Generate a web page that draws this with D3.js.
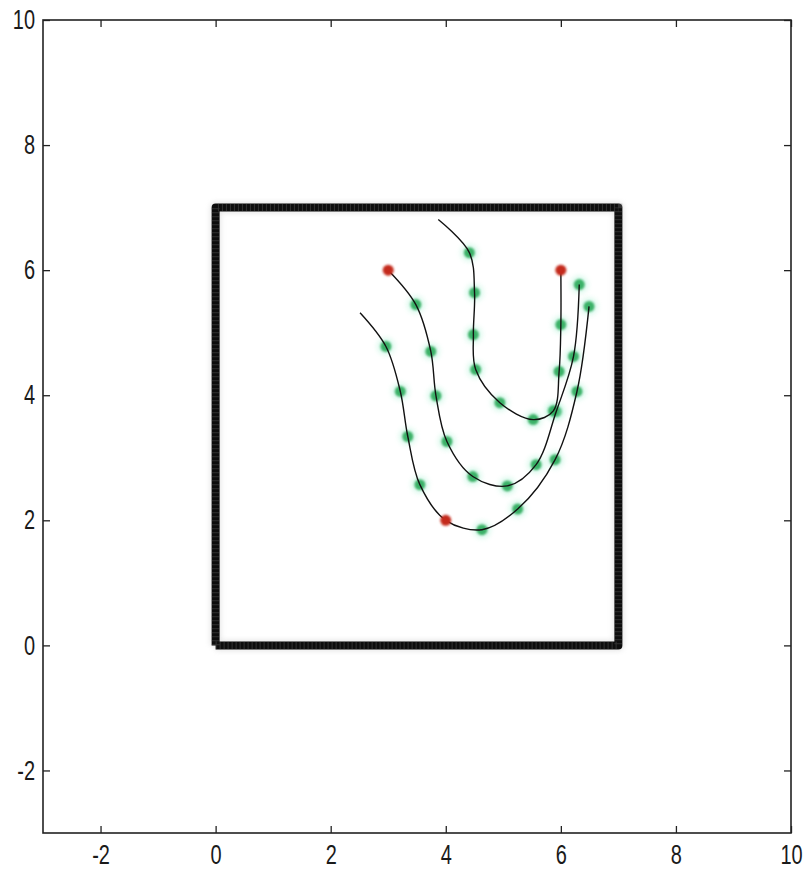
<!DOCTYPE html>
<html>
<head>
<meta charset="utf-8">
<script src="https://cdn.jsdelivr.net/npm/d3@7"></script>
<style>
  html, body { margin: 0; padding: 0; background: #fff; }
  svg { display: block; }
  .tick-label { font-family: "Liberation Sans", Arial, sans-serif; font-size: 27px; fill: #1a1a1a; }
</style>
</head>
<body>
<svg id="chart" width="805" height="876"></svg>
<script>
// Axis ranges and tick values
const xDomain = [-3, 10];
const yDomain = [-3, 10];
const xTicks = [-2, 0, 2, 4, 6, 8, 10];
const yTicks = [-2, 0, 2, 4, 6, 8, 10];

// Boundary square corners
const boundary = [[0, 0], [7, 0], [7, 7], [0, 7], [0, 0]];

// Trajectories (first point of A and C is an unmarked start)
const curveA = [[2.51, 5.32], [2.96, 4.78], [3.21, 4.06], [3.34, 3.34], [3.55, 2.57], [4.0, 2.0],
                [4.63, 1.85], [5.25, 2.18], [5.90, 2.97], [6.28, 4.06], [6.49, 5.42]];
const curveB = [[3.0, 6.0], [3.48, 5.45], [3.74, 4.70], [3.83, 3.99], [4.02, 3.26], [4.47, 2.70],
                [5.07, 2.55], [5.57, 2.89], [5.92, 3.74], [6.22, 4.62], [6.32, 5.77]];
const curveC = [[3.87, 6.81], [4.41, 6.28], [4.50, 5.64], [4.48, 4.97], [4.52, 4.41], [4.94, 3.88],
                [5.52, 3.61], [5.87, 3.75], [5.97, 4.38], [6.0, 5.13], [6.0, 6.0]];

// Highlighted waypoints
const redPoints = [[3.0, 6.0], [4.0, 2.0], [6.0, 6.0]];

const svg = d3.select("#chart");
const box = { left: 43, right: 791, top: 20, bottom: 833 };

const x = d3.scaleLinear().domain(xDomain).range([box.left, box.right]);
const y = d3.scaleLinear().domain(yDomain).range([box.bottom, box.top]);

const defs = svg.append("defs");
defs.append("filter").attr("id", "soft")
  .attr("x", "-50%").attr("y", "-50%").attr("width", "200%").attr("height", "200%")
  .append("feGaussianBlur").attr("stdDeviation", 1.0);
defs.append("filter").attr("id", "glow")
  .attr("x", "-80%").attr("y", "-80%").attr("width", "260%").attr("height", "260%")
  .append("feGaussianBlur").attr("stdDeviation", 2.5);

// Axes box with inward ticks on all four sides
const tickLen = 7;
const narrow = 0.74;
const fmt = d => String(d);
const axisG = svg.append("g");

const bottomAxis = axisG.append("g")
  .attr("transform", `translate(0,${box.bottom})`)
  .call(d3.axisBottom(x).tickValues(xTicks).tickSize(-tickLen).tickPadding(12).tickFormat(fmt))
  .call(g => g.select(".domain").remove());
axisG.append("g")
  .attr("transform", `translate(0,${box.top})`)
  .call(d3.axisTop(x).tickValues(xTicks).tickSize(-tickLen).tickFormat(""))
  .call(g => g.select(".domain").remove());
const leftAxis = axisG.append("g")
  .attr("transform", `translate(${box.left},0)`)
  .call(d3.axisLeft(y).tickValues(yTicks).tickSize(-tickLen).tickPadding(8).tickFormat(fmt))
  .call(g => g.select(".domain").remove());
axisG.append("g")
  .attr("transform", `translate(${box.right},0)`)
  .call(d3.axisRight(y).tickValues(yTicks).tickSize(-tickLen).tickFormat(""))
  .call(g => g.select(".domain").remove());

axisG.selectAll(".tick line").attr("stroke", "#222").attr("stroke-width", 1.3);

// Condensed tick labels: squeeze horizontally, keeping the anchor point in place
axisG.selectAll(".tick text")
  .attr("class", "tick-label").attr("font-size", null).attr("font-family", null);
bottomAxis.selectAll(".tick text")
  .attr("transform", `scale(${narrow},1)`);
leftAxis.selectAll(".tick text")
  .attr("x", -8 / narrow)
  .attr("transform", `scale(${narrow},1)`);

axisG.append("rect")
  .attr("x", box.left).attr("y", box.top)
  .attr("width", box.right - box.left).attr("height", box.bottom - box.top)
  .attr("fill", "none").attr("stroke", "#222").attr("stroke-width", 1.6);

// Boundary square drawn as a dense thick marker band
const lineGen = d3.line().x(d => x(d[0])).y(d => y(d[1]));
svg.append("path")
  .datum(boundary)
  .attr("d", lineGen)
  .attr("fill", "none").attr("stroke", "#bbb").attr("stroke-width", 11)
  .attr("stroke-linejoin", "round").attr("opacity", 0.35)
  .attr("filter", "url(#glow)");
svg.append("path")
  .datum(boundary)
  .attr("d", lineGen)
  .attr("fill", "none").attr("stroke", "#0d0d0d").attr("stroke-width", 8)
  .attr("stroke-linejoin", "round");
svg.append("path")
  .datum(boundary)
  .attr("d", lineGen)
  .attr("fill", "none").attr("stroke", "#777").attr("stroke-width", 8)
  .attr("stroke-dasharray", "1 3").attr("opacity", 0.35);

// Trajectories
const curveGen = d3.line().x(d => x(d[0])).y(d => y(d[1])).curve(d3.curveCatmullRom.alpha(0.5));
const curves = [
  { pts: curveA, markFrom: 1 },
  { pts: curveB, markFrom: 0 },
  { pts: curveC, markFrom: 1 }
];

const isRed = p => redPoints.some(r => r[0] === p[0] && r[1] === p[1]);

const dotG = svg.append("g");
curves.forEach(c => {
  const green = c.pts.slice(c.markFrom).filter(p => !isRed(p));
  dotG.selectAll(null).data(green).enter().append("circle")
    .attr("cx", d => x(d[0])).attr("cy", d => y(d[1]))
    .attr("r", 9).attr("fill", "#a6f0d0").attr("opacity", 0.4)
    .attr("filter", "url(#glow)");
  dotG.selectAll(null).data(green).enter().append("circle")
    .attr("cx", d => x(d[0])).attr("cy", d => y(d[1]))
    .attr("r", 5.5).attr("fill", "#2aaa5a").attr("opacity", 0.9)
    .attr("filter", "url(#soft)");
});

curves.forEach(c => {
  svg.append("path")
    .datum(c.pts)
    .attr("d", curveGen)
    .attr("fill", "none").attr("stroke", "#111").attr("stroke-width", 1.4);
});

svg.append("g").selectAll("circle").data(redPoints).enter().append("circle")
  .attr("cx", d => x(d[0])).attr("cy", d => y(d[1]))
  .attr("r", 5.5).attr("fill", "#c42a1c")
  .attr("filter", "url(#soft)");
</script>
</body>
</html>
